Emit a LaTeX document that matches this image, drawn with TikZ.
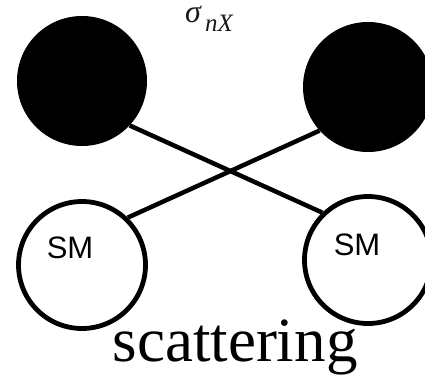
\documentclass[tikz,border=0pt]{standalone}
\usepackage{fontspec}
\setmainfont{Liberation Serif}
\setsansfont{Liberation Sans}
\usetikzlibrary{positioning}

\begin{document}
\begin{tikzpicture}[
        x=1pt, y=-1pt,
        dmball/.style={circle, fill=black, minimum size=130pt, inner sep=0pt},
        smball/.style={circle, draw=black, fill=white, line width=4.8pt, minimum size=127pt, inner sep=0pt},
        smtext/.style={font=\sffamily\fontsize{31}{31}\selectfont, inner sep=0pt},
        link/.style={line width=4.5pt, black}
    ]
    \useasboundingbox (0,0) rectangle (425,377);

    % dark matter pair on top, SM pair below
    \node[dmball] (dmL) at (82,81) {};
    \node[dmball] (dmR) at (368,87) {};
    \node[smball] (smL) at (82,265) {};
    \node[smball] (smR) at (368,260) {};
    \node[smtext] (smLtext) at (70,248) {SM};
    \node[smtext] (smRtext) at (357,245) {SM};

    \draw[link] (dmL.-43) -- (smR.134);
    \draw[link] (smL.46) -- (dmR.222);

    \node[black!90, inner sep=0pt, anchor=base, text height=0.45em, text depth=0pt,
          font=\itshape\fontsize{32}{32}\selectfont] (sigma) at (209,23)
        {σ\raisebox{-0.28em}{\fontsize{25}{25}\selectfont\,nX}};
    \node[font=\fontsize{63}{63}\selectfont, inner sep=0pt] (process) at (235,347) {scattering};
\end{tikzpicture}
\end{document}
